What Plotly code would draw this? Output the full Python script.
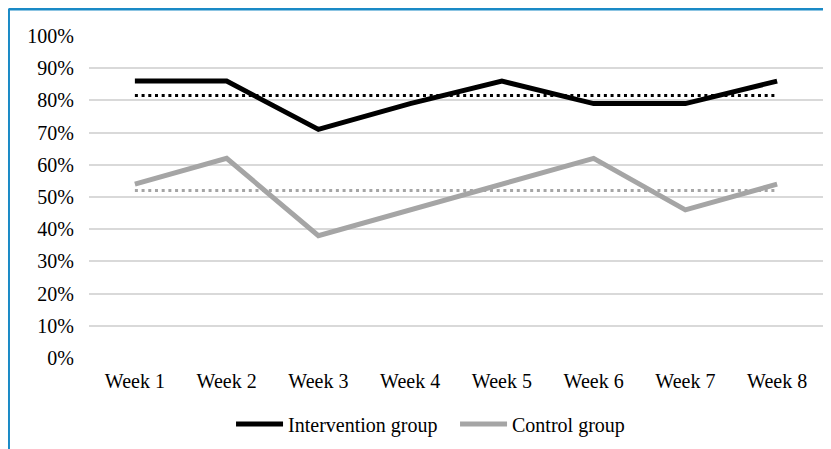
import plotly.graph_objects as go

weeks = ["Week 1", "Week 2", "Week 3", "Week 4", "Week 5", "Week 6", "Week 7", "Week 8"]
intervention = [86, 86, 71, 79, 86, 79, 79, 86]
control = [54, 62, 38, 46, 54, 62, 46, 54]
intervention_mean = [81.5, 81.5, 81.5, 81.5, 81.5, 81.5, 81.5, 81.5]
control_mean = [52, 52, 52, 52, 52, 52, 52, 52]
y_ticks = [0, 10, 20, 30, 40, 50, 60, 70, 80, 90, 100]
y_tick_labels = [f"{v}%" for v in y_ticks]

FONT = "Liberation Serif, Times New Roman, serif"
BLACK = "#000000"
GRAY = "#A5A5A5"

fig = go.Figure()
fig.add_trace(go.Scatter(x=weeks, y=intervention_mean, mode="lines",
                         line=dict(color=BLACK, width=3, dash="3px,3.7px"),
                         showlegend=False, hoverinfo="skip"))
fig.add_trace(go.Scatter(x=weeks, y=control_mean, mode="lines",
                         line=dict(color=GRAY, width=3, dash="3px,3.7px"),
                         showlegend=False, hoverinfo="skip"))
fig.add_trace(go.Scatter(x=weeks, y=intervention, mode="lines", name="Intervention group",
                         line=dict(color=BLACK, width=5)))
fig.add_trace(go.Scatter(x=weeks, y=control, mode="lines", name="Control group",
                         line=dict(color=GRAY, width=5)))

fig.update_layout(
    width=823, height=441,
    margin=dict(l=81, r=8, t=28, b=91, autoexpand=False),
    paper_bgcolor="white", plot_bgcolor="white",
    font=dict(family=FONT, size=20, color="#000000"),
    xaxis=dict(range=[-0.5, 7.5], showgrid=False, zeroline=False, showline=False,
               ticks="", ticklabelstandoff=9, automargin=False,
               tickfont=dict(family=FONT, size=20), fixedrange=True),
    yaxis=dict(range=[0, 100], tickvals=y_ticks, ticktext=y_tick_labels,
               showgrid=True, gridcolor="#D9D9D9", gridwidth=2, zeroline=False,
               showline=False, ticks="", ticklabelstandoff=14, automargin=False,
               tickfont=dict(family=FONT, size=20), fixedrange=True),
    legend=dict(orientation="h", xref="container", yref="container",
                x=0.271, xanchor="left", y=0.0567, yanchor="middle",
                font=dict(family=FONT, size=20), itemwidth=47,
                entrywidth=162, entrywidthmode="pixels", tracegroupgap=0,
                bgcolor="rgba(0,0,0,0)"),
    shapes=[
        dict(type="line", xref="paper", yref="paper", x0=-0.1097, x1=-0.1097,
             y0=-0.5, y1=1.0839, line=dict(color="#1A8AC6", width=3)),
        dict(type="line", xref="paper", yref="paper", x0=-0.1097, x1=1.1,
             y0=1.0839, y1=1.0839, line=dict(color="#1A8AC6", width=3)),
    ],
)

fig.write_html("out.html")
